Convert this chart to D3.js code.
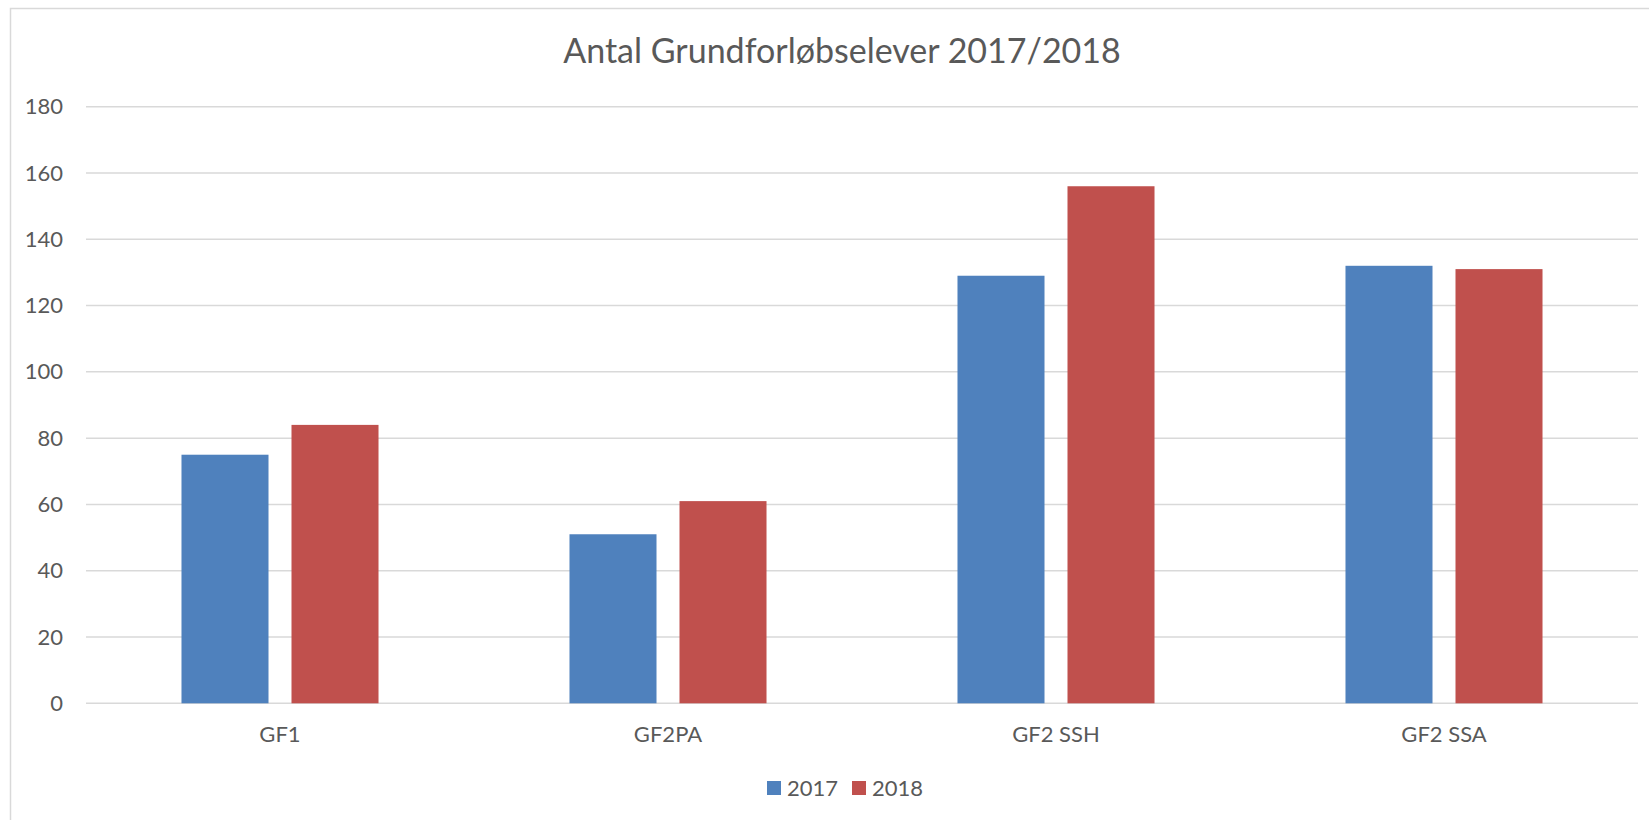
<!DOCTYPE html>
<html>
<head>
<meta charset="utf-8">
<script src="https://cdn.jsdelivr.net/npm/d3@7"></script>
<style>
  body { margin: 0; background: #fff; }
  text { font-family: Lato, "Open Sans", sans-serif; fill: #595959; }
</style>
</head>
<body>
<div id="chart"></div>
<script>
// Data
var categories = ["GF1", "GF2PA", "GF2 SSH", "GF2 SSA"];
var years = ["2017", "2018"];
var values2017 = [75, 51, 129, 132];
var values2018 = [84, 61, 156, 131];
var yTicks = [0, 20, 40, 60, 80, 100, 120, 140, 160, 180];
var colors = ["#4f81bd", "#c0504d"];

var width = 1649;
var height = 820;
// plot area (window.top is reserved, so these get longer names)
var plotLeft = 86, plotRight = 1638, plotTop = 106.7, plotBottom = 703.3;

var svg = d3.select("#chart")
  .append("svg")
  .attr("width", width)
  .attr("height", height);

// chart frame (runs off the right and bottom edge like the original)
svg.append("rect")
  .attr("x", 10.5)
  .attr("y", 8.5)
  .attr("width", 1700)
  .attr("height", 900)
  .attr("fill", "#fff")
  .attr("stroke", "#d9d9d9")
  .attr("stroke-width", 1.5);

var y = d3.scaleLinear().domain([0, 180]).range([plotBottom, plotTop]);
var x0 = d3.scaleBand().domain(categories).range([plotLeft, plotRight]).padding(0);
var x1 = d3.scaleBand().domain(years).range([0, x0.bandwidth()])
  .paddingInner(0.209).paddingOuter(0.868);

// Title
svg.append("text")
  .text("Antal Grundforløbselever 2017/2018")
  .attr("x", 842)
  .attr("y", 63)
  .attr("text-anchor", "middle")
  .style("font-size", "34px");

// Gridlines
svg.append("g")
  .selectAll("line")
  .data(yTicks)
  .enter().append("line")
  .attr("x1", plotLeft)
  .attr("x2", plotRight)
  .attr("y1", function(d) { return y(d); })
  .attr("y2", function(d) { return y(d); })
  .attr("stroke", "#d9d9d9")
  .attr("stroke-width", 1.5);

// Y axis labels
var yAxis = d3.axisLeft(y).tickValues(yTicks).tickSize(0).tickPadding(0);
var gy = svg.append("g")
  .attr("transform", "translate(63,0)")
  .call(yAxis);
gy.select(".domain").remove();
gy.selectAll("text")
  .style("font-size", "22px")
  .attr("fill", "#595959")
  .style("font-family", "Lato, 'Open Sans', sans-serif");

// Bars
var rows = categories.map(function(c, i) {
  return { cat: c, vals: [values2017[i], values2018[i]] };
});

var groups = svg.append("g")
  .selectAll("g")
  .data(rows)
  .enter().append("g")
  .attr("transform", function(d) { return "translate(" + x0(d.cat) + ",0)"; });

groups.selectAll("rect")
  .data(function(d) { return d.vals.map(function(v, j) { return { year: years[j], v: v, j: j }; }); })
  .enter().append("rect")
  .attr("x", function(d) { return x1(d.year); })
  .attr("width", x1.bandwidth())
  .attr("y", function(d) { return y(d.v); })
  .attr("height", function(d) { return y(0) - y(d.v); })
  .attr("fill", function(d) { return colors[d.j]; });

// X axis labels
var xAxis = d3.axisBottom(x0).tickSize(0).tickPadding(0);
var gx = svg.append("g")
  .attr("transform", "translate(0,742)")
  .call(xAxis);
gx.select(".domain").remove();
gx.selectAll("text")
  .attr("dy", 0)
  .style("font-size", "22px")
  .attr("fill", "#595959")
  .style("font-family", "Lato, 'Open Sans', sans-serif");

// Legend
var legendX = [767, 852];
var legend = svg.append("g")
  .selectAll("g")
  .data(years)
  .enter().append("g")
  .attr("transform", function(d, i) { return "translate(" + legendX[i] + ",781)"; });

legend.append("rect")
  .attr("width", 14)
  .attr("height", 14)
  .attr("fill", function(d, i) { return colors[i]; });

legend.append("text")
  .text(function(d) { return d; })
  .attr("x", 20)
  .attr("y", 14.5)
  .style("font-size", "22px");
</script>
</body>
</html>
